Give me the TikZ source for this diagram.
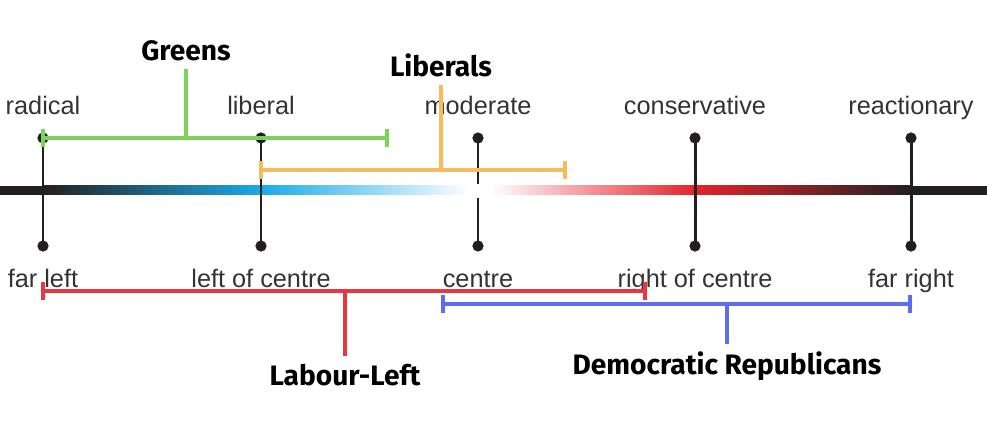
\documentclass[tikz,border=0pt]{standalone}
\usepackage{fontspec}
\setmainfont{Liberation Sans}
\newfontfamily\partyfont{Fira Sans}
\usetikzlibrary{arrows.meta,calc}
\definecolor{greensc}{HTML}{7DD35A}
\definecolor{libc}{HTML}{F7BA5C}
\definecolor{labc}{HTML}{E8383F}
\definecolor{demc}{HTML}{5B6DF0}
\definecolor{axisblue}{HTML}{1AAAE8}
\definecolor{axisred}{HTML}{E3242B}
\definecolor{axisblack}{HTML}{231F20}
\definecolor{ticktext}{HTML}{333333}
\tikzset{
  tickline/.style={line width=1.7pt, axisblack},
  bar/.style={line width=2.3pt, {Bar[width=10pt,sep=-1.2pt]}-{Bar[width=10pt,sep=-1.2pt]}},
  stem/.style={line width=2.3pt},
  axislabel/.style={anchor=base, text=ticktext, font=\fontsize{14.4}{17}\selectfont},
  party/.style={inner sep=4pt, font=\partyfont\bfseries\fontsize{16}{19}\selectfont}
}

\begin{document}
\begin{tikzpicture}[x=0.02cm, y=-0.02cm]
\useasboundingbox (0,0) rectangle (987,432);
% Asse con sfumatura
\fill[axisblack] (0,186) rectangle (43,195);
\shade[left color=axisblack, right color=axisblue] (43,186) rectangle (261,195);
\shade[left color=axisblue, right color=white] (261,186) rectangle (470,195);
\shade[left color=white, right color=axisred] (490,186) rectangle (695,195);
\shade[left color=axisred, right color=axisblack] (695,186) rectangle (911,195);
\fill[axisblack] (911,186) rectangle (987,195);
% Tacche ed etichette
\foreach \x/\up/\dn/\n in {43/radical/far left/rad, 261/liberal/left of centre/lib,
    478/moderate/centre/mod, 695/conservative/right of centre/con, 911/reactionary/far right/rea} {
  \coordinate (\n-up) at (\x,138);
  \coordinate (\n-dn) at (\x,246);
  \draw[tickline] (\n-up) -- (\n-dn);
  \fill[axisblack] (\n-up) circle (3.2pt);
  \fill[axisblack] (\n-dn) circle (3.2pt);
  \node[axislabel] (\n-top) at (\x,115) {\up};
  \node[axislabel] (\n-bot) at (\x,287) {\dn};
}
% interruzione al centro
\fill[white] (474,184) rectangle (482,198);
% Greens
\coordinate (g-l) at (43,138);
\coordinate (g-r) at (387,138);
\node[party] (greens) at (186,61) [anchor=base] {Greens};
\draw[bar, greensc] (g-l) -- (g-r);
\draw[stem, greensc] (greens.south) -- (greens.south |- g-l);
% Liberals
\coordinate (l-l) at (261,170);
\coordinate (l-r) at (565,170);
\node[party] (liberals) at (441,77) [anchor=base] {Liberals};
\draw[bar, libc] (l-l) -- (l-r);
\draw[stem, libc] (liberals.south) -- (liberals.south |- l-l);
% Labour-Left
\coordinate (lab-l) at (43,291);
\coordinate (lab-r) at (645,291);
\node[party] (labour) at (345,385) [anchor=base] {Labour-Left};
\draw[bar, labc] (lab-l) -- (lab-r);
\draw[stem, labc] (labour.north) -- (labour.north |- lab-l);
% Democratic Republicans
\coordinate (d-l) at (443,304);
\coordinate (d-r) at (910,304);
\node[party] (demrep) at (727,374) [anchor=base] {Democratic Republicans};
\draw[bar, demc] (d-l) -- (d-r);
\draw[stem, demc] (demrep.north) -- (demrep.north |- d-l);
\end{tikzpicture}
\end{document}
